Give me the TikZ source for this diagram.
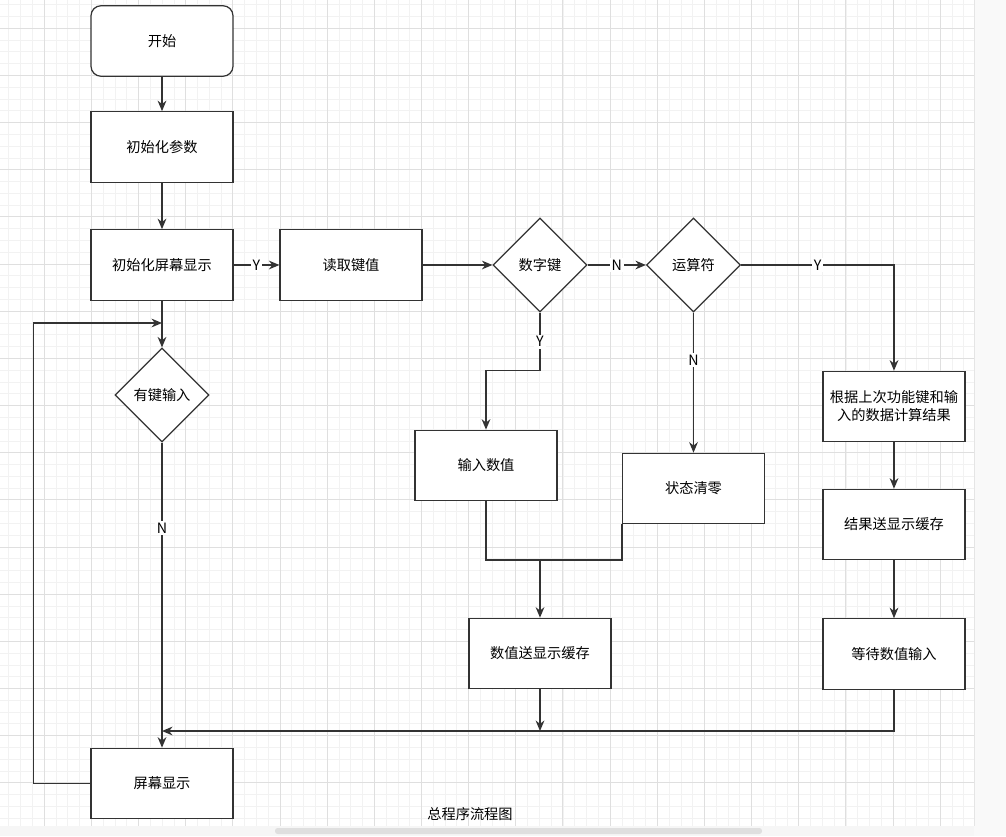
\documentclass[tikz,border=0pt]{standalone}
\usepackage{fontspec}
\setmainfont{Noto Sans CJK SC}
\usepackage{tikz}
\usetikzlibrary{shapes.geometric}
\usetikzlibrary{arrows.meta}

\definecolor{edgegray}{HTML}{333333}

\begin{document}
\begin{tikzpicture}[x=0.02cm,y=-0.02cm,
    font=\fontsize{8.1}{10.2}\selectfont,
    box/.style={draw=edgegray,line width=0.7pt,fill=white,minimum width=2.84cm,minimum height=1.41cm,inner sep=0pt},
    startbox/.style={box,rounded corners=0.2cm},
    decision/.style={draw=edgegray,line width=0.7pt,fill=white,diamond,aspect=1,minimum size=1.88cm,inner sep=0pt},
    arr/.style={draw=edgegray,line width=0.7pt,-{Stealth[length=6pt,width=5pt]}},
    line/.style={draw=edgegray,line width=0.7pt},
    lbl/.style={fill=white,inner sep=1pt}]
    \useasboundingbox (0,0) rectangle (1006,836);
    \fill[white] (0,0) rectangle (1006,836);
    \foreach \i in {0,...,81} \draw[gray!10,line width=0.5pt] ({8.9+11.79*\i},0) -- ({8.9+11.79*\i},826);
    \foreach \i in {0,...,69} \draw[gray!10,line width=0.5pt] (0,{4.7+11.79*\i}) -- (974,{4.7+11.79*\i});
    \foreach \i in {0,...,19} \draw[gray!25,line width=0.5pt] ({44.25+47.15*\i},0) -- ({44.25+47.15*\i},826);
    \foreach \i in {0,...,16} \draw[gray!25,line width=0.5pt] (0,{28.3+47.15*\i}) -- (974,{28.3+47.15*\i});
    \fill[gray!5] (974,0) rectangle (1006,836);
    \draw[gray!20] (974.5,0) -- (974.5,826);
    \fill[gray!7] (0,826) rectangle (974,836);
    \fill[gray!25,rounded corners=1.5pt] (275,828) rectangle (762,834);

    \node[startbox] (start) at (162,41) {开始};
    \node[box] (initp) at (162,147) {初始化参数};
    \node[box] (inits) at (162,265) {初始化屏幕显示};
    \node[box] (readk) at (351,265) {读取键值};
    \node[decision] (numk) at (540,265) {数字键};
    \node[decision] (opk) at (693.5,265) {运算符};
    \node[decision] (haskey) at (162,395) {有键输入};
    \node[box] (inval) at (486,465.5) {输入数值};
    \node[box] (clr) at (693.5,488.5) {状态清零};
    \node[box,align=center] (calc) at (894,406.5) {根据上次功能键和输\\入的数据计算结果};
    \node[box] (showres) at (894,524.5) {结果送显示缓存};
    \node[box] (waitin) at (894,654) {等待数值输入};
    \node[box] (outval) at (540,653.5) {数值送显示缓存};
    \node[box] (screen) at (162,783.5) {屏幕显示};
    \node (title) at (470,814) {总程序流程图};

    \coordinate (back) at (162,323);
    \coordinate (join) at (162,731);
    \coordinate (merge) at (540,560);

    \draw[arr] (start) -- (initp);
    \draw[arr] (initp) -- (inits);
    \draw[arr] (inits) -- node[lbl]{Y} (readk);
    \draw[arr] (readk) -- (numk);
    \draw[arr] (numk) -- node[lbl]{N} (opk);
    \draw[arr] (numk.south) -- node[lbl]{Y} ++(0,58) -| (inval);
    \draw[arr] (opk) -- node[lbl,pos=0.34]{N} (clr);
    \draw[arr] (opk.east) -| node[lbl,pos=0.25]{Y} (calc);
    \draw[arr] (calc) -- (showres);
    \draw[arr] (showres) -- (waitin);
    \draw[line] (inval.south) |- (merge) -| (clr.south west);
    \draw[arr] (merge) -- (outval);
    \draw[arr] (outval) -- (outval |- join);
    \draw[arr] (waitin) |- (join);
    \draw[arr] (inits) -- (haskey);
    \draw[arr] (haskey) -- node[lbl,pos=0.28]{N} (screen);
    \draw[arr] (screen.west) -- ++(-57,0) |- (back);
\end{tikzpicture}
\end{document}
